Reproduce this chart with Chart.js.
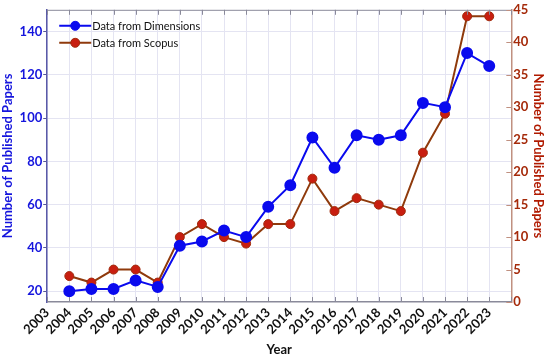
<!DOCTYPE html>
<html>
<head>
<meta charset="utf-8">
<script src="https://cdn.jsdelivr.net/npm/chart.js@4/dist/chart.umd.min.js"></script>
<style>
html,body{margin:0;padding:0;background:#fff;}
#wrap{position:relative;width:550px;height:358px;}
</style>
</head>
<body>
<div id="wrap"><canvas id="c" width="550" height="358"></canvas></div>
<script>
const years = [2004,2005,2006,2007,2008,2009,2010,2011,2012,2013,2014,2015,2016,2017,2018,2019,2020,2021,2022,2023];
const dimensions = [20,21,21,25,22,41,43,48,45,59,69,91,77,92,90,92,107,105,130,124];
const scopus = [4,3,5,5,3,10,12,10,9,12,12,19,14,16,15,14,23,29,44,44];
const leftTicks = [20,40,60,80,100,120,140];
const rightTicks = [0,5,10,15,20,25,30,35,40,45];
const seriesNames = ['Data from Dimensions','Data from Scopus'];

const FONT = 'Lato, "Open Sans", sans-serif';
const BLUE = '#0a0aee';
const BROWN = '#8f3a0c';
const RED = '#c81e10';

const legendPlugin = {
  id: 'lineLegend',
  afterDraw(chart) {
    const ctx = chart.ctx;
    const a = chart.chartArea;
    const x0 = a.left + 12, y0 = a.top + 16, gap = 17;
    chart.data.datasets.forEach((ds, i) => {
      const y = y0 + i * gap;
      ctx.save();
      ctx.strokeStyle = ds.borderColor;
      ctx.lineWidth = 2;
      ctx.beginPath(); ctx.moveTo(x0, y); ctx.lineTo(x0 + 32, y); ctx.stroke();
      ctx.fillStyle = ds.pointBackgroundColor;
      ctx.strokeStyle = ds.pointBorderColor;
      ctx.lineWidth = 1;
      ctx.beginPath(); ctx.arc(x0 + 16, y, 4.5, 0, Math.PI * 2); ctx.fill(); ctx.stroke();
      ctx.fillStyle = '#111';
      ctx.font = '11px ' + FONT;
      ctx.textBaseline = 'middle';
      ctx.fillText(ds.label, x0 + 33, y + 1);
      ctx.restore();
    });
  }
};

const framePlugin = {
  id: 'frame',
  afterDraw(chart) {
    const ctx = chart.ctx;
    const a = chart.chartArea;
    const xs = chart.scales.x;
    const yr = chart.scales.y1;
    ctx.save();
    ctx.lineWidth = 1;
    ctx.strokeStyle = '#8a8a9a';
    ctx.beginPath(); ctx.moveTo(a.left, a.top + 0.5); ctx.lineTo(a.right, a.top + 0.5); ctx.stroke();
    for (let v = 2003; v <= 2024; v++) {
      const px = Math.round(xs.getPixelForValue(v)) + 0.5;
      ctx.beginPath(); ctx.moveTo(px, a.top); ctx.lineTo(px, a.top + 5); ctx.stroke();
      ctx.beginPath(); ctx.moveTo(px, a.bottom); ctx.lineTo(px, a.bottom - 5); ctx.stroke();
    }
    ctx.strokeStyle = '#c09080';
    rightTicks.forEach(v => {
      const py = Math.round(yr.getPixelForValue(v)) + 0.5;
      ctx.beginPath(); ctx.moveTo(a.right, py); ctx.lineTo(a.right - 5, py); ctx.stroke();
    });
    ctx.restore();
  }
};

new Chart(document.getElementById('c'), {
  type: 'line',
  data: {
    datasets: [
      {
        label: seriesNames[0],
        data: years.map((y, i) => ({x: y, y: dimensions[i]})),
        yAxisID: 'y',
        borderColor: BLUE,
        backgroundColor: BLUE,
        pointBackgroundColor: BLUE,
        pointBorderColor: BLUE,
        borderWidth: 2,
        pointRadius: 5,
        tension: 0
      },
      {
        label: seriesNames[1],
        data: years.map((y, i) => ({x: y, y: scopus[i]})),
        yAxisID: 'y1',
        borderColor: BROWN,
        backgroundColor: RED,
        pointBackgroundColor: RED,
        pointBorderColor: '#a02a0c',
        pointBorderWidth: 1,
        borderWidth: 2,
        pointRadius: 4.5,
        tension: 0
      }
    ]
  },
  options: {
    responsive: false,
    animation: false,
    layout: {padding: {top: 9, right: 0, left: 0, bottom: 0}},
    plugins: {legend: {display: false}, tooltip: {enabled: false}},
    scales: {
      x: {
        type: 'linear',
        min: 2003, max: 2024,
        afterBuildTicks(s) { s.ticks = []; for (let v = 2003; v <= 2024; v++) s.ticks.push({value: v}); },
        ticks: {
          stepSize: 1,
          autoSkip: false,
          maxRotation: 45, minRotation: 45,
          color: '#111',
          font: {family: FONT, size: 13, weight: 'bold'},
          padding: 3,
          callback: v => (v >= 2003 && v <= 2023) ? String(v) : ''
        },
        grid: {color: '#e4e4f2', drawTicks: false},
        border: {color: '#8a8a9a', width: 1.5},
        title: {display: true, text: 'Year', color: '#111', font: {family: FONT, size: 13, weight: 'bold'}, padding: {top: 2, bottom: 0}}
      },
      y: {
        position: 'left',
        min: 15, max: 150,
        afterBuildTicks(s) { s.ticks = leftTicks.map(v => ({value: v})); },
        ticks: {color: '#1515dd', font: {family: FONT, size: 13, weight: 'bold'}, padding: 1},
        grid: {color: '#e4e4f2', drawTicks: true, tickLength: 4, tickColor: '#555599'},
        border: {color: '#5a5aa8', width: 1.5},
        title: {display: true, text: 'Number of Published Papers', color: '#1515dd', font: {family: FONT, size: 13, weight: 'bold'}, padding: {top: 0, bottom: 3}}
      },
      y1: {
        position: 'right',
        min: 0, max: 45,
        afterBuildTicks(s) { s.ticks = rightTicks.map(v => ({value: v})); },
        ticks: {color: '#a52a0a', font: {family: FONT, size: 13, weight: 'bold'}, padding: 2},
        grid: {drawOnChartArea: false, drawTicks: false},
        border: {color: '#c09080', width: 1.5},
        title: {display: true, text: 'Number of Published Papers', color: '#b01a00', font: {family: FONT, size: 13, weight: 'bold'}, padding: {top: 4, bottom: 0}}
      }
    }
  },
  plugins: [legendPlugin, framePlugin]
});
</script>
</body>
</html>
